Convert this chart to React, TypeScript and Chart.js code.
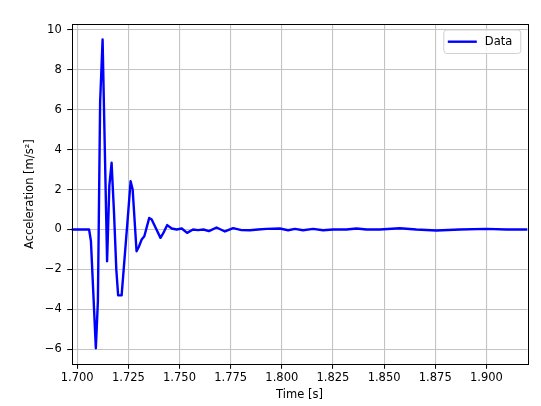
import { useEffect, useRef } from "react"
import { Chart, registerables } from "chart.js"

Chart.register(...registerables)

// Time samples [s] and measured acceleration [m/s^2]
const times = [
  1.695, 1.7, 1.7058, 1.7067, 1.7091, 1.7101, 1.7112, 1.7124, 1.7146, 1.7157,
  1.7168, 1.718, 1.7191, 1.72, 1.7217, 1.7248, 1.7261, 1.7271, 1.729, 1.7302,
  1.7315, 1.7328, 1.7352, 1.7364, 1.7385, 1.7407, 1.742, 1.744, 1.7462, 1.7486,
  1.7511, 1.7537, 1.7566, 1.759, 1.7617, 1.7644, 1.7681, 1.7722, 1.7762, 1.7803,
  1.7844, 1.7884, 1.7925, 1.799, 1.8031, 1.8064, 1.8104, 1.8153, 1.8202, 1.8251,
  1.8316, 1.8365, 1.8414, 1.8479, 1.8577, 1.8658, 1.8756, 1.887, 1.9, 1.9098,
  1.925,
]
const accel = [
  0, 0, 0, -0.58, -5.95, -3.6, 6.4, 9.52, -1.59, 2.2,
  3.34, 0.8, -2.0, -3.3, -3.3, 0.69, 2.42, 2.0, -1.09, -0.85,
  -0.5, -0.34, 0.58, 0.5, 0.05, -0.42, -0.2, 0.22, 0.05, 0,
  0.05, -0.17, 0, -0.03, 0, -0.08, 0.1, -0.1, 0.07, -0.03,
  -0.04, 0, 0.03, 0.05, -0.04, 0.03, -0.04, 0.03, -0.04, 0,
  0, 0.05, 0, 0, 0.06, 0, -0.05, 0, 0.03, 0,
  0,
]

const xTicks = [1.7, 1.725, 1.75, 1.775, 1.8, 1.825, 1.85, 1.875, 1.9]
const yTicks = [-6, -4, -2, 0, 2, 4, 6, 8, 10]
const seriesName = "Data"

const FONT = "'DejaVu Sans', sans-serif"
const FONT_SIZE = 11.5
const GRID = "#c4c4c4"

// draws the full axes frame plus a matplotlib-style legend inside the plot
const framePlugin = {
  id: "frame",
  afterDatasetsDraw(chart: Chart) {
    const { ctx, chartArea: a } = chart
    ctx.save()
    ctx.strokeStyle = "#000"
    ctx.lineWidth = 1
    ctx.strokeRect(Math.round(a.left) + 0.5, Math.round(a.top) + 0.5, Math.round(a.right - a.left), Math.round(a.bottom - a.top))

    // legend
    const bx = a.right - 83.5
    const by = a.top + 6
    const bw = 77
    const bh = 23.5
    ctx.beginPath()
    ctx.roundRect(bx, by, bw, bh, 3)
    ctx.fillStyle = "rgba(255,255,255,0.8)"
    ctx.fill()
    ctx.strokeStyle = "#d0d0d0"
    ctx.stroke()
    ctx.beginPath()
    ctx.moveTo(bx + 4, by + 11.7)
    ctx.lineTo(bx + 33, by + 11.7)
    ctx.strokeStyle = "#0000ff"
    ctx.lineWidth = 2.4
    ctx.stroke()
    ctx.fillStyle = "#000"
    ctx.font = `${FONT_SIZE}px ${FONT}`
    ctx.textBaseline = "middle"
    ctx.fillText(seriesName, bx + 41, by + 11.7)
    ctx.restore()
  },
}

export default function App() {
  const chartRef = useRef<HTMLCanvasElement>(null)
  const chartInstance = useRef<Chart | null>(null)

  useEffect(() => {
    if (!chartRef.current) return
    if (chartInstance.current) chartInstance.current.destroy()
    const ctx = chartRef.current.getContext("2d")
    if (!ctx) return

    chartInstance.current = new Chart(ctx, {
      type: "line",
      data: {
        datasets: [
          {
            label: seriesName,
            data: times.map((t, i) => ({ x: t, y: accel[i] })),
            borderColor: "#0000ff",
            borderWidth: 2.4,
            borderJoinStyle: "round",
            borderCapStyle: "round",
            pointRadius: 0,
            tension: 0,
            fill: false,
            clip: 0,
          },
        ],
      },
      options: {
        responsive: false,
        animation: false,
        layout: { padding: { top: 24, right: 13.7, left: 0, bottom: 0 } },
        plugins: { legend: { display: false }, tooltip: { enabled: false } },
        scales: {
          x: {
            type: "linear",
            min: 1.6973,
            max: 1.92,
            afterBuildTicks: (s: any) => {
              s.ticks = xTicks.map((v) => ({ value: v }))
            },
            afterFit: (s: any) => {
              s.height = 41.7
            },
            ticks: {
              color: "#000",
              font: { family: FONT, size: FONT_SIZE },
              padding: 2,
              maxRotation: 0,
              autoSkip: false,
              callback: (v: any) => Number(v).toFixed(3),
            },
            grid: { color: GRID, lineWidth: 1.1, tickColor: "#000", tickLength: 4.5, tickWidth: 1 },
            border: { display: false },
            title: {
              display: true,
              text: "Time [s]",
              color: "#000",
              font: { family: FONT, size: FONT_SIZE },
              padding: { top: 0, bottom: 4.4 },
            },
          },
          y: {
            type: "linear",
            min: -6.755,
            max: 10.295,
            afterBuildTicks: (s: any) => {
              s.ticks = yTicks.map((v) => ({ value: v }))
            },
            afterFit: (s: any) => {
              s.width = 71.7
            },
            ticks: {
              color: "#000",
              font: { family: FONT, size: FONT_SIZE },
              padding: 5.5,
              autoSkip: false,
              callback: (v: any) => String(v).replace("-", "\u2212"),
            },
            grid: { color: GRID, lineWidth: 1.1, tickColor: "#000", tickLength: 4.5, tickWidth: 1 },
            border: { display: false },
            title: {
              display: true,
              text: "Acceleration [m/s\u00b2]",
              color: "#000",
              font: { family: FONT, size: FONT_SIZE },
              padding: { top: 23, bottom: 0 },
            },
          },
        },
      },
      plugins: [framePlugin],
    })

    return () => {
      if (chartInstance.current) {
        chartInstance.current.destroy()
        chartInstance.current = null
      }
    }
  }, [])

  return (
    <div style={{ position: "fixed", left: 0, top: 0, width: 541, height: 406, background: "#fff" }}>
      <canvas ref={chartRef} width={541} height={406} />
    </div>
  )
}
